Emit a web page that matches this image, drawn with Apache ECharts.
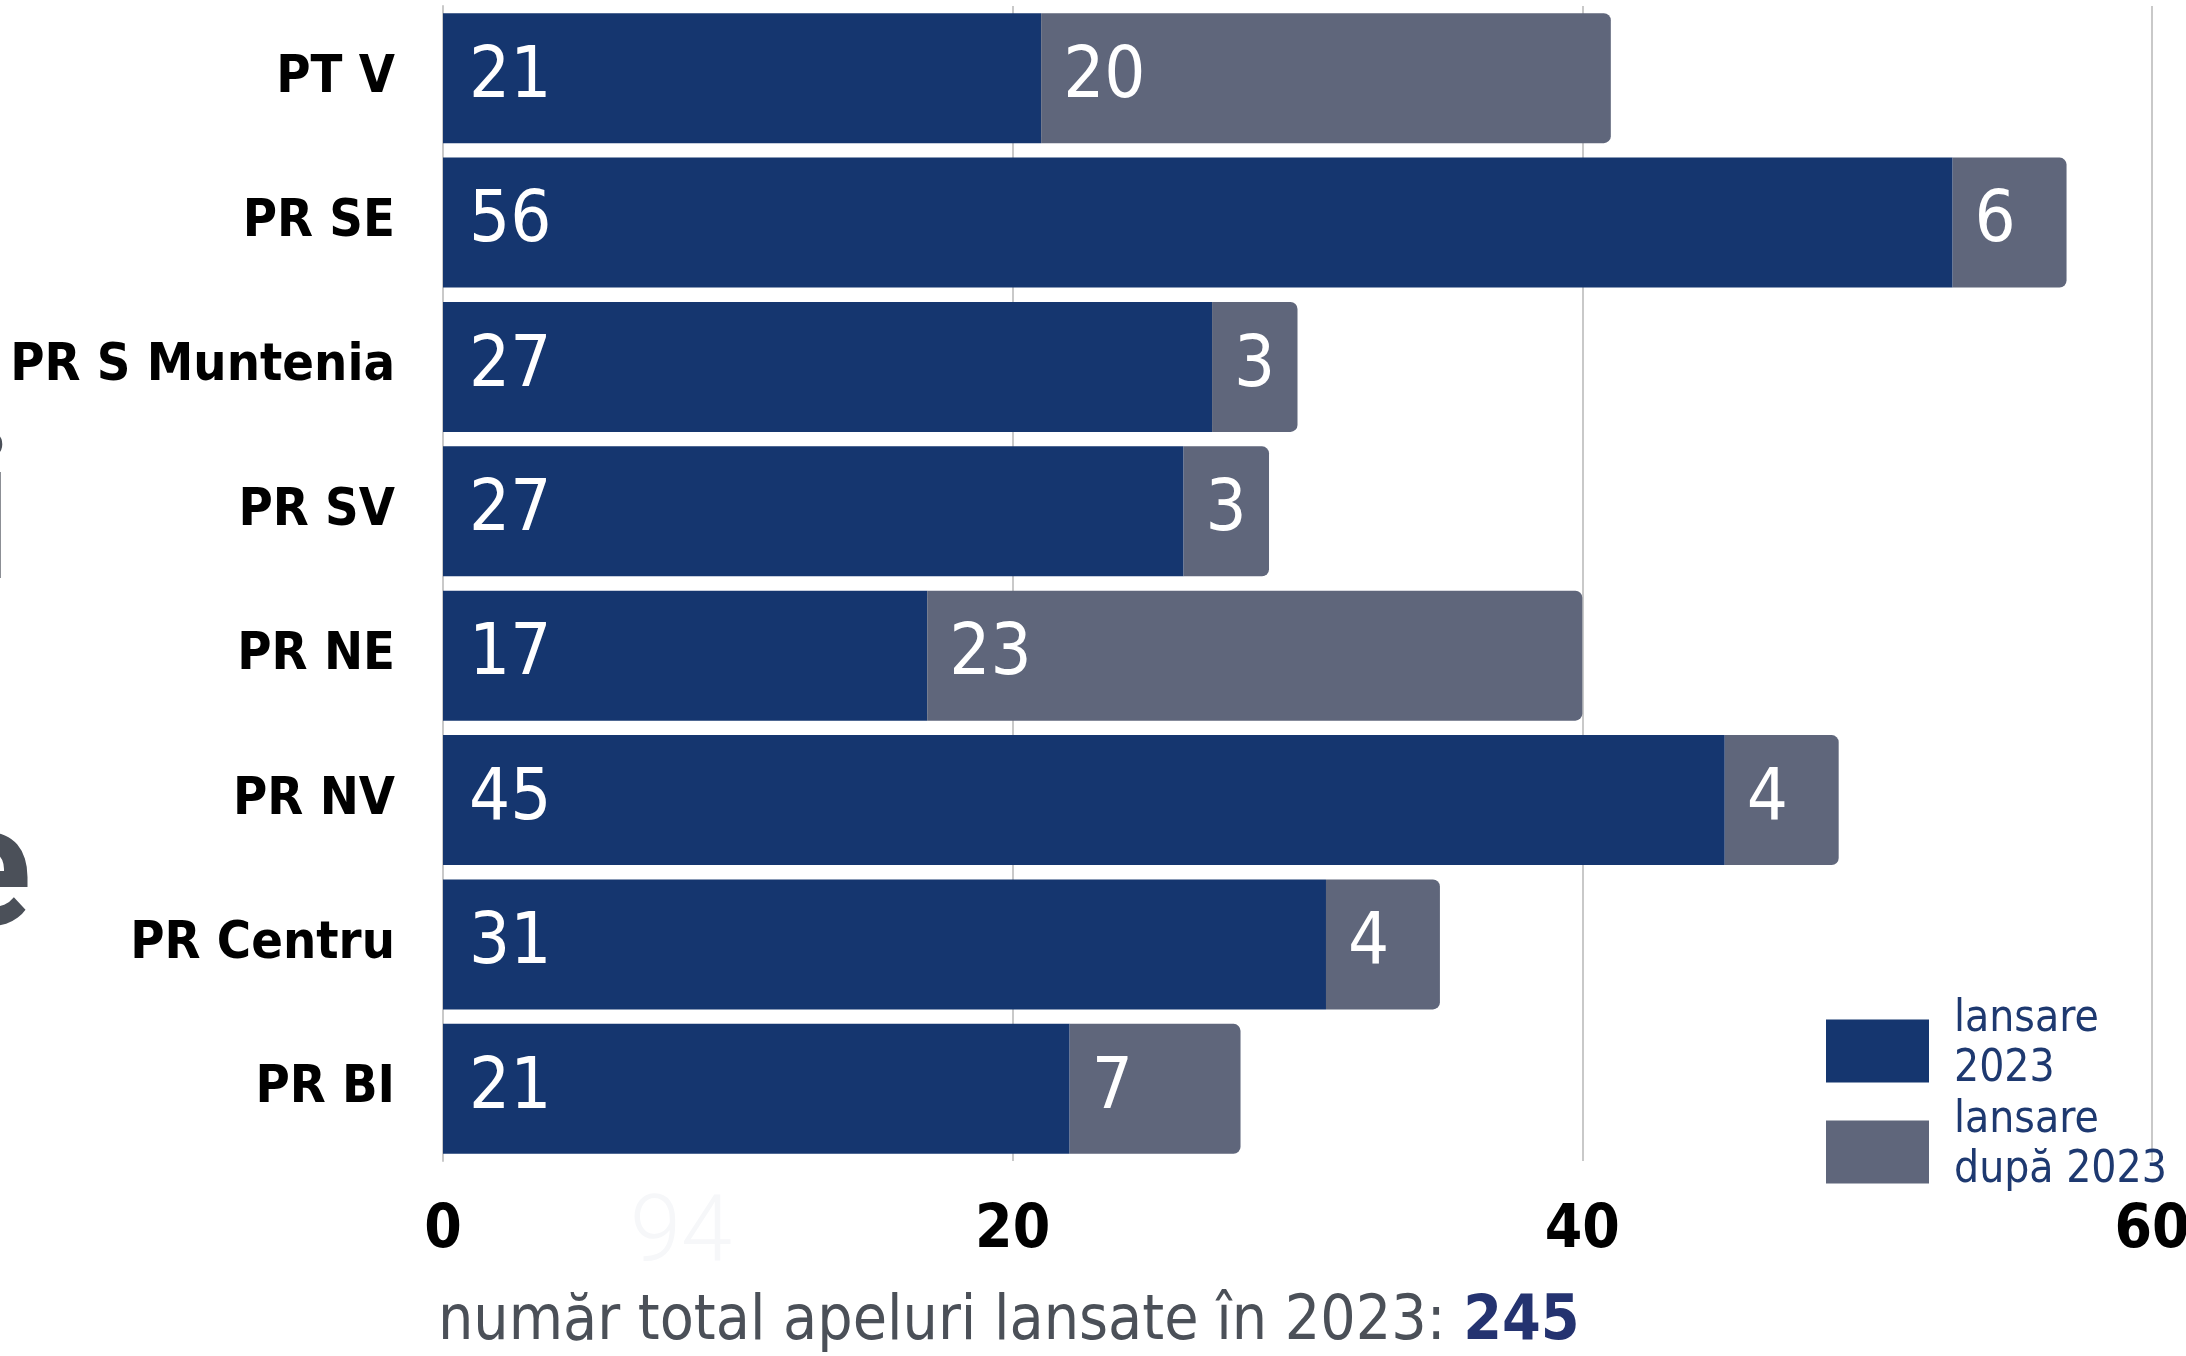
<!DOCTYPE html>
<html>
<head>
<meta charset="utf-8">
<script src="https://cdn.jsdelivr.net/npm/echarts@6/dist/echarts.min.js"></script>
<style>
html,body{margin:0;padding:0;background:#fff;}
#chart{width:2186px;height:1356px;}
</style>
</head>
<body>
<div id="chart"></div>
<script>
// date
var categorii = ['PT V', 'PR SE', 'PR S Muntenia', 'PR SV', 'PR NE', 'PR NV', 'PR Centru', 'PR BI'];
// valorile scrise pe bare
var lansare2023 = [21, 56, 27, 27, 17, 45, 31, 21];
var lansareDupa = [20, 6, 3, 3, 23, 4, 4, 7];
// lungimea barelor asa cum apar in grafic
var bara2023 = [21, 53, 27, 26, 17, 45, 31, 22];
var baraDupa = [20, 4, 3, 3, 23, 4, 4, 6];
var axaX = [0, 20, 40, 60];
var total = 245;

var fontCond = "'Liberation Sans Narrow','DejaVu Sans Condensed','Roboto Condensed','Liberation Sans',sans-serif";

var chart = echarts.init(document.getElementById('chart'));
var option = {
    animation: false,
    grid: {
        left: 443,
        right: 34,
        top: 6,
        height: 1155,
        containLabel: false,
        outerBoundsMode: 'none'
    },
    legend: {
        orient: 'vertical',
        left: 1821,
        top: 993,
        itemWidth: 103,
        itemHeight: 63,
        itemGap: -6,
        icon: 'rect',
        data: ['lansare 2023', 'lansare după 2023'],
        formatter: function (name) {
            var parti = name.split('lansare ');
            return '{t|lansare}\n{t|' + parti[1] + '}\n{s| }';
        },
        textStyle: {
            fontFamily: fontCond,
            fontSize: 44,
            color: '#1e3970',
            rich: {
                t: {fontFamily: fontCond, fontSize: 44, lineHeight: 50, color: '#1e3970', padding: [0, 0, 0, 20]},
                s: {fontSize: 8, lineHeight: 12}
            }
        }
    },
    xAxis: {
        type: 'value',
        min: axaX[0],
        max: axaX[axaX.length - 1],
        interval: 20,
        axisLine: {show: false},
        axisTick: {show: false},
        splitLine: {lineStyle: {color: '#c9c9c9', width: 2}},
        axisLabel: {
            margin: 40,
            color: '#000',
            fontFamily: fontCond,
            fontWeight: 'bold',
            fontSize: 60
        }
    },
    yAxis: {
        type: 'category',
        inverse: true,
        data: categorii,
        axisLine: {show: true, lineStyle: {color: '#c9c9c9', width: 2}},
        axisTick: {show: false},
        axisLabel: {
            margin: 48,
            color: '#000',
            fontFamily: fontCond,
            fontWeight: 'bold',
            fontSize: 52
        }
    },
    series: [
        {
            name: 'lansare 2023',
            type: 'bar',
            stack: 'total',
            barCategoryGap: '10%',
            itemStyle: {color: '#15366f'},
            label: {
                show: true,
                position: 'insideLeft',
                distance: 26,
                color: '#fff',
                fontFamily: fontCond,
                fontSize: 72,
                formatter: function (p) { return lansare2023[p.dataIndex]; }
            },
            data: bara2023
        },
        {
            name: 'lansare după 2023',
            type: 'bar',
            stack: 'total',
            barCategoryGap: '10%',
            itemStyle: {color: '#5f667b', borderRadius: [0, 7, 7, 0]},
            label: {
                show: true,
                position: 'insideLeft',
                distance: 22,
                color: '#fff',
                fontFamily: fontCond,
                fontSize: 72,
                formatter: function (p) { return lansareDupa[p.dataIndex]; }
            },
            data: baraDupa
        }
    ],
    graphic: [
        {
            type: 'text',
            left: 438,
            top: 1292,
            style: {
                text: '{a|număr total apeluri lansate în 2023: }{b|' + total + '}',
                rich: {
                    a: {fontFamily: fontCond, fontSize: 62, fill: '#4b5058'},
                    b: {fontFamily: fontCond, fontSize: 62, fontWeight: 'bold', fill: '#243370'}
                }
            }
        },
        // urme de text de la marginea stanga
        {
            type: 'text',
            left: -60,
            top: 796,
            style: {text: 'e', fontFamily: 'Roboto,sans-serif', fontWeight: 'bold', fontSize: 170, fill: '#4b5059'}
        },
        {
            type: 'text',
            left: -40,
            top: 428,
            style: {text: 'i', fontFamily: 'Roboto,sans-serif', fontWeight: 'bold', fontSize: 200, fill: '#4b5059'}
        },
        {
            type: 'text',
            left: 630,
            top: 1192,
            z: -1,
            style: {text: '94', fontFamily: 'Roboto,sans-serif', fontWeight: 300, fontSize: 92, fill: '#f6f7f9'}
        }
    ]
};
chart.setOption(option);
</script>
</body>
</html>
